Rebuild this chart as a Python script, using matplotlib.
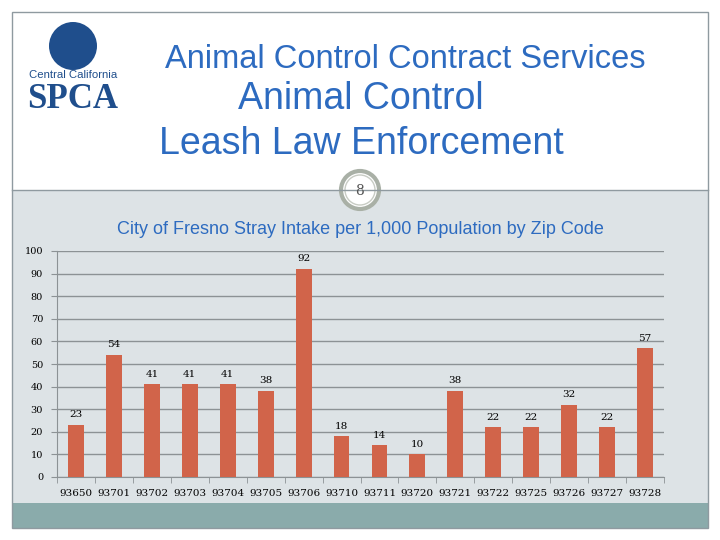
import matplotlib.pyplot as plt
from matplotlib.patches import Rectangle, Circle

zips = ['93650', '93701', '93702', '93703', '93704', '93705', '93706', '93710',
        '93711', '93720', '93721', '93722', '93725', '93726', '93727', '93728']
intake = [23, 54, 41, 41, 41, 38, 92, 18, 14, 10, 38, 22, 22, 32, 22, 57]
yticks = [0, 10, 20, 30, 40, 50, 60, 70, 80, 90, 100]

W, H = 720, 540
fig = plt.figure(figsize=(7.2, 5.4), dpi=100)
fig.patch.set_facecolor('white')

def px(x, y):
    return x / W, 1 - y / H

# slide background pieces
bg = fig.add_axes([0, 0, 1, 1])
bg.set_xlim(0, W)
bg.set_ylim(H, 0)
bg.axis('off')
bg.add_patch(Rectangle((12, 190), 696, 313, fc='#dde3e6', ec='none'))
bg.add_patch(Rectangle((12, 503), 696, 25, fc='#8aabab', ec='none'))
bg.add_patch(Rectangle((12, 12), 696, 516, fc='none', ec='#8f9aa0', lw=1))
bg.plot([12, 708], [190, 190], color='#8f9aa0', lw=1)
bg.add_patch(Circle((360, 190), 19, fc='white', ec='#a9b0a6', lw=3))
bg.add_patch(Circle((360, 190), 15, fc='white', ec='#c8ccc4', lw=1))
bg.text(360, 191, '8', ha='center', va='center', fontsize=10, family='DejaVu Serif', color='#555555')

# logo
bg.add_patch(Circle((73, 46), 24, fc='#1f4e8c', ec='none'))
bg.text(73, 78, 'Central California', ha='center', va='baseline', fontsize=8.2, color='#1f4e8c',
        family='Liberation Sans')
bg.text(73, 108, 'SPCA', ha='center', va='baseline', fontsize=25, fontweight='bold', color='#1f4e8c',
        family='Liberation Serif')

# titles
blue = '#2d6bc0'
bg.text(405, 59, 'Animal Control Contract Services', ha='center', va='center', fontsize=23.5,
        color=blue, family='Liberation Sans')
bg.text(361, 99, 'Animal Control', ha='center', va='center', fontsize=27,
        color=blue, family='Liberation Sans')
bg.text(361, 144, 'Leash Law Enforcement', ha='center', va='center', fontsize=27,
        color=blue, family='Liberation Sans')
bg.text(360, 229, 'City of Fresno Stray Intake per 1,000 Population by Zip Code', ha='center',
        va='center', fontsize=13, color=blue, family='Liberation Sans')

# chart
l, b = px(57, 477)
r, t = px(664, 251)
ax = fig.add_axes([l, b, r - l, t - b])
ax.set_facecolor('none')
x = list(range(len(zips)))
ax.bar(x, intake, width=0.42, color='#d1644a', zorder=3)
for xi, v in zip(x, intake):
    ax.text(xi, v + 2.5, str(v), ha='center', va='bottom', fontsize=7.5, family='DejaVu Serif')
ax.set_xlim(-0.5, len(zips) - 0.5)
ax.set_ylim(0, 100)
ax.set_yticks(yticks)
ax.set_yticklabels([str(v) for v in yticks], fontsize=7, family='DejaVu Serif')
ax.yaxis.grid(True, color='#8c9295', lw=1)
ax.set_xticks(x)
ax.set_xticklabels(zips, fontsize=7.5, family='DejaVu Serif')
ax.set_xticks([i - 0.5 for i in range(len(zips) + 1)], minor=True)
ax.tick_params(axis='x', which='major', length=0, pad=9)
ax.tick_params(axis='x', which='minor', length=4, color='#8c9295')
ax.tick_params(axis='y', length=4, color='#8c9295', pad=6)
for s in ['top', 'right']:
    ax.spines[s].set_visible(False)
ax.spines['left'].set_color('#8c9295')
ax.spines['bottom'].set_color('#8c9295')

fig.savefig('out.png', dpi=100)
